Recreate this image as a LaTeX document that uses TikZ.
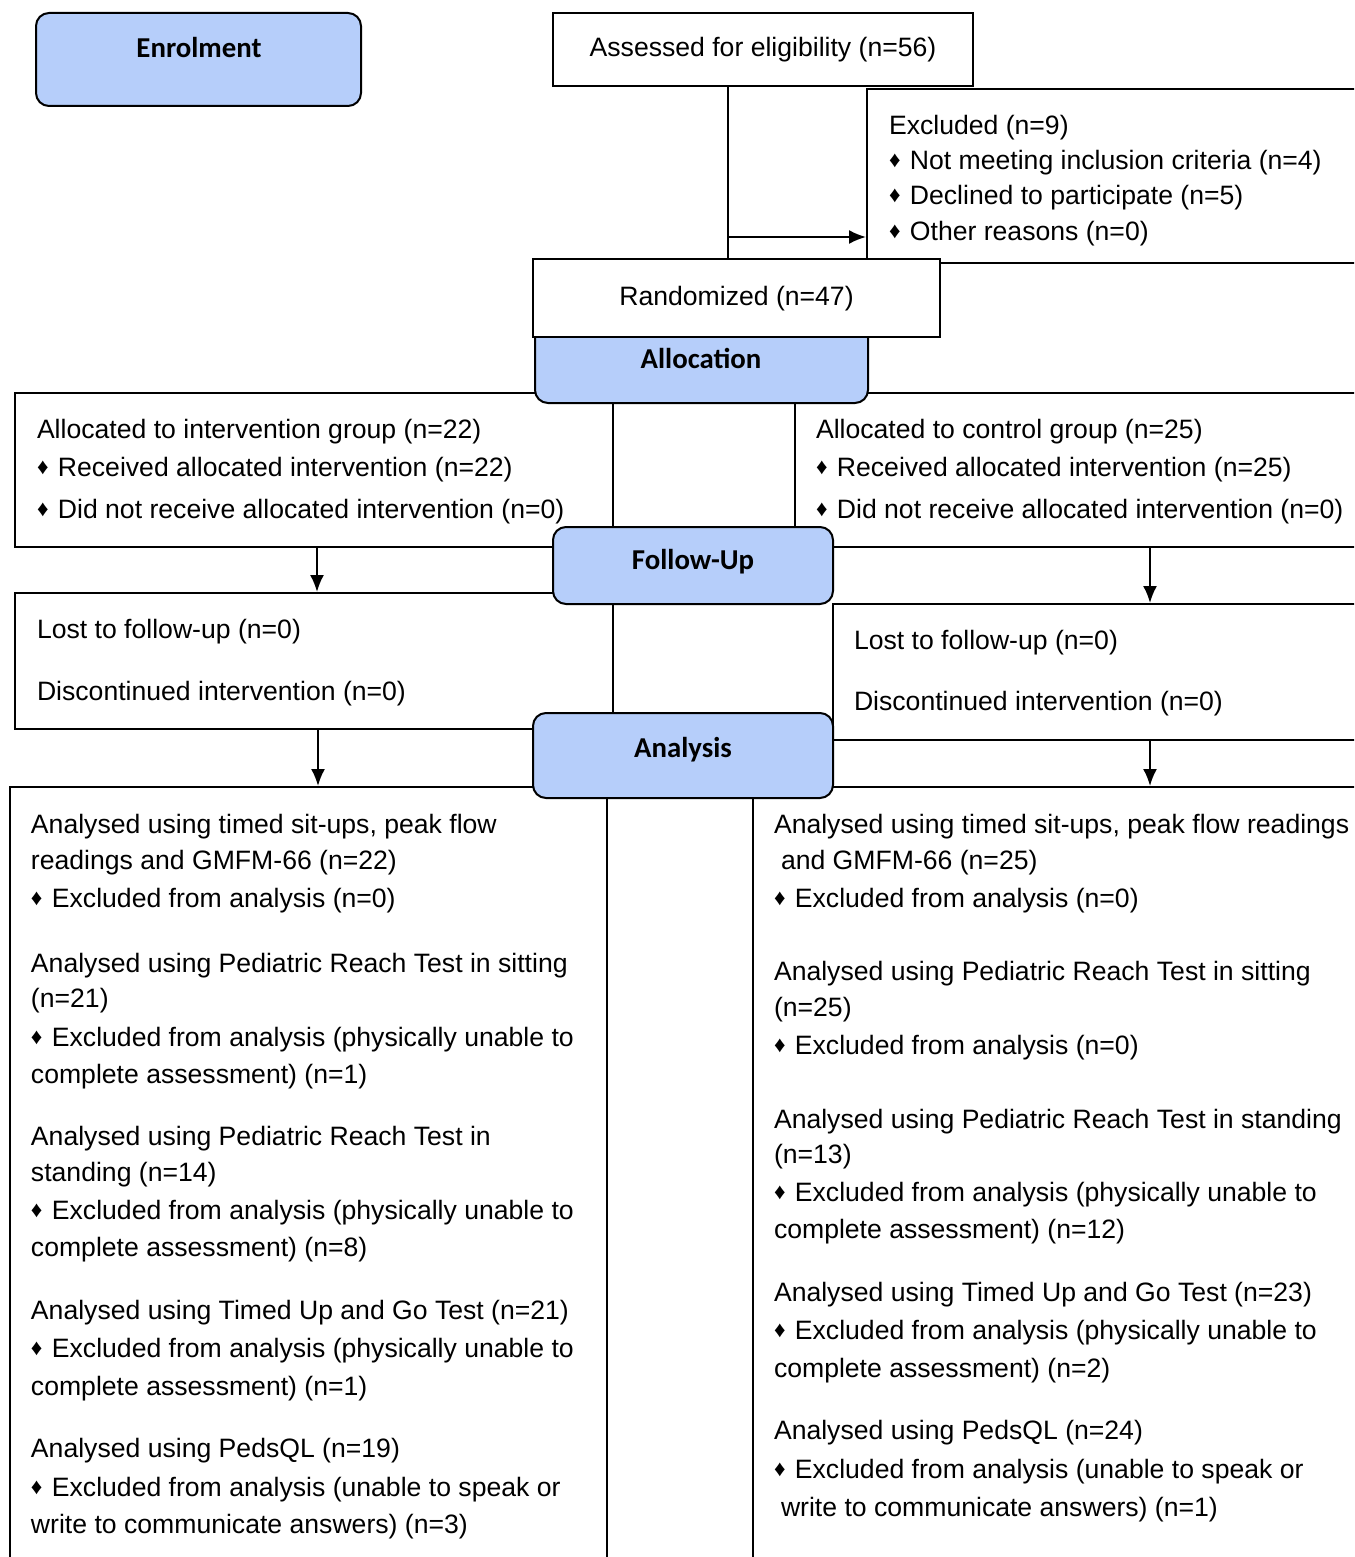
\documentclass[tikz,border=0pt]{standalone}
\usepackage{fontspec}
\setmainfont{Liberation Sans}
\newfontfamily\headfont{Carlito}
\usetikzlibrary{arrows.meta}
\definecolor{phaseblue}{RGB}{182,206,250}
\newcommand{\dmd}{\raisebox{0.06em}{\scalebox{0.85}{♦}}\kern1pt\ }

\begin{document}
\begin{tikzpicture}[x=0.5pt,y=-0.5pt,line width=1pt,
  box/.style={draw,rectangle,inner sep=0pt},
  phase/.style={draw,rectangle,rounded corners=6.5pt,fill=phaseblue,inner sep=0pt},
  txt/.style={anchor=west,inner sep=0pt,text height=0.72em,text depth=0pt,yshift=-1pt,
    font=\fontsize{13.3pt}{16pt}\selectfont},
  head/.style={inner sep=0pt,text height=0.64em,text depth=0pt,yshift=-1.5pt,
    font=\headfont\bfseries\fontsize{14.4pt}{17pt}\selectfont},
  arr/.style={-{Latex[length=8.5pt,width=7pt]}}]
\useasboundingbox (0,0) rectangle (1354,1557);
\clip (0,0) rectangle (1354,1557);

% boxes of the two arms
\path (314,470) node[box,minimum width=299pt,minimum height=77pt] (int) {}
      (1150,470) node[box,minimum width=355pt,minimum height=77pt] (ctrl) {}
      (314,661) node[box,minimum width=299pt,minimum height=68pt] (lost1) {}
      (1150,672) node[box,minimum width=317pt,minimum height=68pt] (lost2) {}
      (308.5,1193.5) node[box,minimum width=298.5pt,minimum height=406.5pt] (res1) {}
      (1150,1193.5) node[box,minimum width=397pt,minimum height=406.5pt] (res2) {}
      (1183.5,176) node[box,minimum width=316.5pt,minimum height=87pt] (excl) {}
      (763,49.5) node[box,txt,anchor=center,yshift=1pt,minimum width=210pt,minimum height=36.5pt] (assess) {Assessed for eligibility (n=56)};

% phase boxes
\path (198.5,59.5) node[phase,minimum width=162.5pt,minimum height=46.5pt] (enrol) {}
      (701.5,364) node[phase,minimum width=166.5pt,minimum height=39pt] (alloc) {}
      (693,565.5) node[phase,minimum width=140pt,minimum height=38.5pt] (fup) {}
      (683,755.5) node[phase,minimum width=150pt,minimum height=42.5pt] (ana) {};
\path (199,48) node[head] (enrol-t) {Enrolment}
      (701,359) node[head] (alloc-t) {Allocation}
      (693,560) node[head] (fup-t) {Follow-Up}
      (683,748) node[head] (ana-t) {Analysis};

\node[box,txt,anchor=center,yshift=1pt,fill=white,minimum width=203.5pt,minimum height=39pt] (rand) at (736.5,298) {Randomized (n=47)};

% connectors
\coordinate (junc) at (728,237);
\draw (assess.south -| junc) -- (rand.north -| junc);
\draw[arr] (junc) -- (excl.west |- junc);
\draw[arr] ([xshift=1.5pt]int.south) -- ([xshift=1.5pt]lost1.north);
\draw[arr] (ctrl.south) -- (lost2.north);
\draw[arr] ([xshift=2pt]lost1.south) -- ([xshift=2pt]lost1.south |- res1.north);
\draw[arr] (lost2.south) -- (res2.north);

% texts
\foreach \y/\t [count=\i] in {125/{Excluded (n=9)},160/{\dmd Not meeting inclusion criteria (n=4)},
    195/{\dmd Declined to participate (n=5)},231/{\dmd Other reasons (n=0)}}
  \node[txt] (ex\i) at (888,\y) {\t};
\foreach \y/\t [count=\i] in {429/{Allocated to intervention group (n=22)},
    467/{\dmd Received allocated intervention (n=22)},509/{\dmd Did not receive allocated intervention (n=0)}}
  \node[txt] (in\i) at (36,\y) {\t};
\foreach \y/\t [count=\i] in {429/{Allocated to control group (n=25)},
    467/{\dmd Received allocated intervention (n=25)},509/{\dmd Did not receive allocated intervention (n=0)}}
  \node[txt] (co\i) at (815,\y) {\t};
\foreach \y/\t [count=\i] in {629/{Lost to follow-up (n=0)},691/{Discontinued intervention (n=0)}}
  \node[txt] (la\i) at (36,\y) {\t};
\foreach \y/\t [count=\i] in {640/{Lost to follow-up (n=0)},701/{Discontinued intervention (n=0)}}
  \node[txt] (lb\i) at (853,\y) {\t};

\foreach \y/\t [count=\i] in {824/{Analysed using timed sit-ups, peak flow},
    860/{readings and GMFM-66 (n=22)},898/{\dmd Excluded from analysis (n=0)},
    963/{Analysed using Pediatric Reach Test in sitting},998/{(n=21)},
    1037/{\dmd Excluded from analysis (physically unable to},1074/{complete assessment) (n=1)},
    1136/{Analysed using Pediatric Reach Test in},1172/{standing (n=14)},
    1210/{\dmd Excluded from analysis (physically unable to},1247/{complete assessment) (n=8)},
    1310/{Analysed using Timed Up and Go Test (n=21)},
    1348/{\dmd Excluded from analysis (physically unable to},1386/{complete assessment) (n=1)},
    1448/{Analysed using PedsQL (n=19)},
    1487/{\dmd Excluded from analysis (unable to speak or},1524/{write to communicate answers) (n=3)}}
  \node[txt] (ra\i) at (30,\y) {\t};
\foreach \x/\y/\t [count=\i] in {773/824/{Analysed using timed sit-ups, peak flow readings},
    780/860/{and GMFM-66 (n=25)},773/898/{\dmd Excluded from analysis (n=0)},
    773/971/{Analysed using Pediatric Reach Test in sitting},773/1007/{(n=25)},
    773/1045/{\dmd Excluded from analysis (n=0)},
    773/1119/{Analysed using Pediatric Reach Test in standing},773/1154/{(n=13)},
    773/1192/{\dmd Excluded from analysis (physically unable to},773/1229/{complete assessment) (n=12)},
    773/1292/{Analysed using Timed Up and Go Test (n=23)},
    773/1330/{\dmd Excluded from analysis (physically unable to},773/1368/{complete assessment) (n=2)},
    773/1430/{Analysed using PedsQL (n=24)},
    773/1469/{\dmd Excluded from analysis (unable to speak or},780/1507/{write to communicate answers) (n=1)}}
  \node[txt] (rb\i) at (\x,\y) {\t};
\end{tikzpicture}
\end{document}
